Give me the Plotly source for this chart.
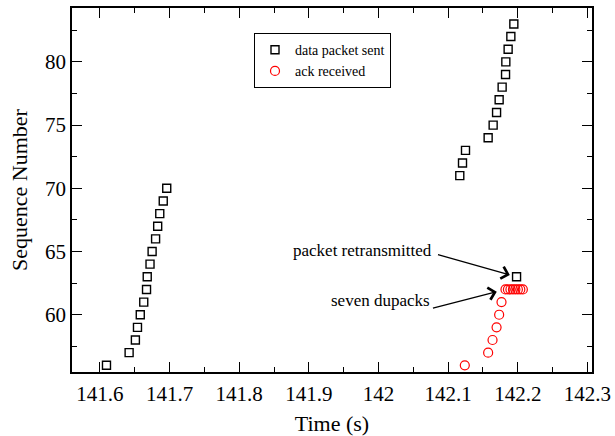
import plotly.graph_objects as go

# Data packets sent: (time, sequence number)
sent_time = [141.6095, 141.642, 141.651, 141.654, 141.658, 141.663, 141.667, 141.668,
             141.672, 141.675, 141.680, 141.683, 141.686, 141.691, 141.696,
             142.1167, 142.1206, 142.1249, 142.1574, 142.1646, 142.1695, 142.1732,
             142.1775, 142.1824, 142.1828, 142.1861, 142.1900, 142.1943,
             142.1982]
sent_seq = [56, 57, 58, 59, 60, 61, 62, 63, 64, 65, 66, 67, 68, 69, 70,
            71, 72, 73, 74, 75, 76, 77, 78, 79, 80, 81, 82, 83,
            63]

# Acks received
ack_time = [142.1239, 142.1574, 142.1637, 142.1695, 142.1732, 142.1766,
            142.1823, 142.1858, 142.1894, 142.1930, 142.1965, 142.2001, 142.2036, 142.2072]
ack_seq = [56, 57, 58, 59, 60, 61, 62, 62, 62, 62, 62, 62, 62, 62]

x_range = [141.56, 142.3065]
y_range = [55.47, 84.26]

FONT = "Liberation Serif"

fig = go.Figure()
fig.add_trace(go.Scatter(
    x=sent_time, y=sent_seq, mode="markers", name="data packet sent",
    marker=dict(symbol="square-open", size=8, color="black", line=dict(width=1.4, color="black")),
))
fig.add_trace(go.Scatter(
    x=ack_time, y=ack_seq, mode="markers", name="ack received",
    marker=dict(symbol="circle-open", size=9, color="red", line=dict(width=1.2, color="red")),
))

# annotation targets come from data
retx_t, retx_s = sent_time[-1], sent_seq[-1]
dup_t, dup_s = ack_time[6], ack_seq[6]

arrow_common = dict(showarrow=True, arrowhead=4, arrowsize=2.0, arrowwidth=1.2,
                    arrowcolor="black", axref="x", ayref="y", xref="x", yref="y", text="")
fig.add_annotation(x=retx_t, y=retx_s, ax=142.0832, ay=64.79, standoff=7, **arrow_common)
fig.add_annotation(x=dup_t, y=dup_s, ax=142.076, ay=60.49, standoff=9, **arrow_common)

fig.add_annotation(x=142.0800, y=65.11, text="packet retransmitted", showarrow=False,
                   xanchor="right", yanchor="middle", font=dict(family=FONT, size=17, color="black"))
fig.add_annotation(x=142.0765, y=61.15, text="seven dupacks", showarrow=False,
                   xanchor="right", yanchor="middle", font=dict(family=FONT, size=17, color="black"))

axis_common = dict(
    showline=True, linecolor="black", linewidth=1.5, mirror="allticks",
    ticks="inside", ticklen=10, tickwidth=1.2, tickcolor="black",
    showgrid=False, zeroline=False, automargin=False,
    tickfont=dict(family=FONT, size=21, color="black"),
)

fig.update_xaxes(range=x_range, tick0=141.6, dtick=0.1,
                 minor=dict(ticks="inside", ticklen=5, dtick=0.05, tickcolor="black", tickwidth=1.2),
                 title=dict(text="Time (s)", font=dict(family=FONT, size=22, color="black"), standoff=14),
                 ticklabelstandoff=2,
                 **axis_common)
fig.update_yaxes(range=y_range, tick0=60, dtick=5,
                 minor=dict(ticks="inside", ticklen=5, dtick=2.5, tickcolor="black", tickwidth=1.2),
                 title=dict(text="Sequence Number", font=dict(family=FONT, size=22, color="black"), standoff=11),
                 **axis_common)

fig.update_layout(
    width=615, height=436,
    margin=dict(l=72, r=23, t=8, b=64),
    plot_bgcolor="white", paper_bgcolor="white",
    font=dict(family=FONT, color="black"),
    showlegend=True,
    legend=dict(x=0.35, y=0.931, xanchor="left", yanchor="top",
                bordercolor="black", borderwidth=1, bgcolor="white",
                font=dict(family=FONT, size=14, color="black"),
                itemwidth=30, tracegroupgap=0),
)

fig.write_html("out.html")
